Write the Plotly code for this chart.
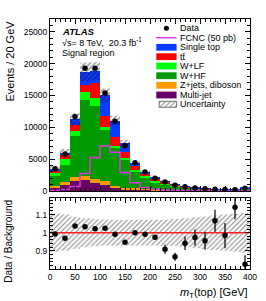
import plotly.graph_objects as go

# ---------------- data ----------------
bin_centers = [10, 30, 50, 70, 90, 110, 130, 150, 170, 190,
               210, 230, 250, 270, 290, 310, 330, 350, 370, 390]
bin_width = 20

multijet = [500, 1010, 1580, 1720, 1300, 930, 430, 270, 250, 180,
            120, 100, 70, 45, 30, 24, 16, 14, 12, 32]
zjets_diboson = [260, 350, 600, 590, 550, 640, 360, 250, 170, 120,
                 80, 60, 40, 25, 18, 15, 10, 8, 6, 20]
w_hf = [1650, 2740, 6420, 11950, 11500, 8050, 6040, 4340, 2570, 1780,
        1200, 910, 620, 410, 280, 222, 155, 132, 103, 300]
w_lf = [450, 920, 790, 1280, 1300, 460, 270, 320, 250, 210,
        150, 110, 80, 50, 35, 28, 20, 17, 13, 38]
ttbar = [350, 610, 940, 1130, 2350, 1660, 1420, 990, 700, 520,
         350, 250, 170, 110, 75, 60, 42, 36, 28, 80]
single_top = [290, 350, 900, 1970, 1830, 3280, 2530, 1320, 510, 220,
              150, 110, 80, 50, 35, 28, 20, 17, 13, 38]
fcnc = [60, 250, 700, 2750, 5250, 7050, 6100, 2900, 1300, 530,
        270, 170, 110, 80, 60, 40, 30, 25, 20, 50]
data = [3480, 5800, 11650, 19250, 19250, 15380, 10950, 7100, 4450, 3000,
        2000, 1400, 920, 650, 460, 360, 280, 220, 200, 420]
rel_unc = [0.105, 0.10, 0.088, 0.08, 0.075, 0.072, 0.07, 0.07, 0.07, 0.07,
           0.07, 0.072, 0.075, 0.08, 0.085, 0.09, 0.095, 0.10, 0.105, 0.11]
ratio = [0.993, 0.97, 1.037, 1.033, 1.022, 1.024, 0.991, 0.947, 1.0, 0.991,
         0.975, 0.909, 0.867, 0.942, 0.973, 0.956, 1.066, 0.984, 1.14, 0.826]
ratio_err = [0.006, 0.006, 0.004, 0.003, 0.003, 0.004, 0.004, 0.005, 0.007, 0.009,
             0.012, 0.025, 0.022, 0.037, 0.045, 0.05, 0.06, 0.07, 0.066, 0.05]

legend_labels = ["Data", "FCNC (50 pb)", "Single top", "tt\u0304", "W+LF", "W+HF",
                 "Z+jets, diboson", "Multi-jet", "Uncertainty"]

C_ST = "#0a3cff"
C_TT = "#ff0000"
C_WLF = "#00ff00"
C_WHF = "#009a00"
C_Z = "#ff9900"
C_MJ = "#660066"
C_FCNC = "#e033e0"

FONT = "Liberation Sans, Arial, Helvetica, sans-serif"

fig = go.Figure()

stack = [("Multi-jet", multijet, C_MJ), ("Z+jets, diboson", zjets_diboson, C_Z),
         ("W+HF", w_hf, C_WHF), ("W+LF", w_lf, C_WLF), ("tt", ttbar, C_TT),
         ("Single top", single_top, C_ST)]
for name, vals, col in stack:
    fig.add_trace(go.Bar(x=bin_centers, y=vals, width=bin_width, name=name,
                         marker=dict(color=col, line=dict(width=0)),
                         xaxis="x", yaxis="y", showlegend=False))

total = [sum(v) for v in zip(*[s[1] for s in stack])]
n = len(bin_centers)
half = bin_width / 2

# uncertainty band on the stack
bx, by = [], []
for i in range(n):
    up = total[i] * (1 + rel_unc[i])
    bx += [bin_centers[i] - half, bin_centers[i] + half]
    by += [up, up]
for i in reversed(range(n)):
    dn = total[i] * (1 - rel_unc[i])
    bx += [bin_centers[i] + half, bin_centers[i] - half]
    by += [dn, dn]
hatch = dict(shape="/", fgcolor="#000000", bgcolor="rgba(0,0,0,0)", size=3.5, solidity=0.35)
fig.add_trace(go.Scatter(x=bx, y=by, fill="toself", fillcolor="rgba(0,0,0,0)",
                         fillpattern=hatch, mode="lines",
                         line=dict(width=0, color="rgba(0,0,0,0)"),
                         xaxis="x", yaxis="y", showlegend=False, hoverinfo="skip"))

# FCNC step line
fx = [c - half for c in bin_centers] + [bin_centers[-1] + half]
fy = fcnc + [fcnc[-1]]
fig.add_trace(go.Scatter(x=fx, y=fy, mode="lines", line=dict(color=C_FCNC, width=1.5, shape="hv"),
                         xaxis="x", yaxis="y", showlegend=False))

# data
fig.add_trace(go.Scatter(x=bin_centers, y=data, mode="markers",
                         marker=dict(color="black", size=5.5),
                         error_y=dict(type="data", array=[d ** 0.5 for d in data],
                                      width=0, thickness=1, color="black"),
                         xaxis="x", yaxis="y", showlegend=False))

# ratio panel band
rx, ry = [], []
for i in range(n):
    rx += [bin_centers[i] - half, bin_centers[i] + half]
    ry += [1 + rel_unc[i]] * 2
for i in reversed(range(n)):
    rx += [bin_centers[i] + half, bin_centers[i] - half]
    ry += [1 - rel_unc[i]] * 2
hatch2 = dict(shape="/", fgcolor="#333333", bgcolor="rgba(0,0,0,0)", size=3.5, solidity=0.35)
fig.add_trace(go.Scatter(x=rx, y=ry, fill="toself", fillcolor="rgba(0,0,0,0)",
                         fillpattern=hatch2, mode="lines",
                         line=dict(width=0, color="rgba(0,0,0,0)"),
                         xaxis="x2", yaxis="y2", showlegend=False, hoverinfo="skip"))
fig.add_trace(go.Scatter(x=[0, 400], y=[1, 1], mode="lines", line=dict(color="#ff2020", width=1.5),
                         xaxis="x2", yaxis="y2", showlegend=False))
fig.add_trace(go.Scatter(x=bin_centers, y=ratio, mode="markers",
                         marker=dict(color="black", size=5.5),
                         error_y=dict(type="data", array=ratio_err, width=0, thickness=1.2, color="black"),
                         xaxis="x2", yaxis="y2", showlegend=False, cliponaxis=True))

# ---------------- hand-drawn legend on a pixel overlay axis ----------------
rows = [28.3, 37.7, 47.3, 56.7, 66.0, 75.7, 85.3, 95.0, 104.3]
sx0, sx1 = 160, 181
box_colors = [None, None, C_ST, C_TT, C_WLF, C_WHF, C_Z, C_MJ, None]
shapes = []
for r, col in zip(rows, box_colors):
    if col:
        shapes.append(dict(type="rect", xref="x3", yref="y3", x0=sx0, x1=sx1,
                           y0=r - 3.4, y1=r + 3.4, fillcolor=col, line=dict(width=0)))
shapes.append(dict(type="line", xref="x3", yref="y3", x0=sx0, x1=sx1, y0=rows[1], y1=rows[1],
                   line=dict(color=C_FCNC, width=1.5)))
fig.add_trace(go.Scatter(x=[(sx0 + sx1) / 2], y=[rows[0]], mode="markers",
                         marker=dict(color="black", size=5), xaxis="x3", yaxis="y3",
                         showlegend=False, hoverinfo="skip"))
u = rows[8]
fig.add_trace(go.Scatter(x=[163, sx1, sx1, 163, 163], y=[u - 3, u - 3, u + 3, u + 3, u - 3],
                         fill="toself", fillcolor="rgba(0,0,0,0)", fillpattern=hatch2,
                         mode="lines", line=dict(width=0.8, color="#555555"),
                         xaxis="x3", yaxis="y3", showlegend=False, hoverinfo="skip"))

annotations = []
for r, lab in zip(rows, legend_labels):
    annotations.append(dict(xref="x3", yref="y3", x=183, y=r, text=lab, showarrow=False,
                            xanchor="left", yanchor="middle", borderpad=0,
                            font=dict(family=FONT, size=9, color="black")))
annotations += [
    dict(xref="x3", yref="y3", x=61, y=31, text="<b><i>ATLAS</i></b>", showarrow=False,
         xanchor="left", yanchor="middle", borderpad=0,
         font=dict(family=FONT, size=9.5, color="black")),
    dict(xref="x3", yref="y3", x=61, y=42, text="\u221as= 8 TeV,  20.3 fb<sup>-1</sup>", showarrow=False,
         xanchor="left", yanchor="middle", borderpad=0,
         font=dict(family=FONT, size=9, color="black")),
    dict(xref="x3", yref="y3", x=61, y=52.5, text="Signal region", showarrow=False,
         xanchor="left", yanchor="middle", borderpad=0,
         font=dict(family=FONT, size=9, color="black")),
    dict(xref="paper", yref="paper", x=1.0, y=-0.06, text="<i>m</i><sub>T</sub>(top) [GeV]",
         showarrow=False, xanchor="right", yanchor="top",
         font=dict(family=FONT, size=11, color="black")),
    dict(xref="paper", yref="paper", x=-0.205, y=1.0, text="Events / 20 GeV", textangle=-90,
         showarrow=False, xanchor="center", yanchor="top",
         font=dict(family=FONT, size=11, color="black")),
    dict(xref="paper", yref="paper", x=-0.205, y=0.283, text="Data / Background", textangle=-90,
         showarrow=False, xanchor="center", yanchor="top",
         font=dict(family=FONT, size=10, color="black")),
]

axis_common = dict(showline=True, linecolor="black", linewidth=1, mirror="allticks",
                   ticks="inside", ticklen=5, tickcolor="black", tickwidth=1,
                   showgrid=False, zeroline=False,
                   tickfont=dict(family=FONT, size=8.5, color="black"))

fig.update_layout(
    width=266, height=301,
    margin=dict(l=50, r=9, t=19, b=32),
    paper_bgcolor="white", plot_bgcolor="rgba(0,0,0,0)",
    barmode="stack", bargap=0, showlegend=False,
    font=dict(family=FONT, color="black"),
    xaxis=dict(domain=[0, 1], anchor="y", range=[0, 400], tick0=0, dtick=50,
               showticklabels=False, minor=dict(ticks="inside", ticklen=3, dtick=10, tickcolor="black"),
               **axis_common),
    yaxis=dict(domain=[0.312, 1], anchor="x", range=[0, 27000], tick0=0, dtick=5000,
               tickformat="d", minor=dict(ticks="inside", ticklen=3, dtick=1000, tickcolor="black"),
               **axis_common),
    xaxis2=dict(domain=[0, 1], anchor="y2", range=[0, 400], tick0=0, dtick=50,
                minor=dict(ticks="inside", ticklen=3, dtick=10, tickcolor="black"),
                **axis_common),
    yaxis2=dict(domain=[0, 0.283], anchor="x2", range=[0.8, 1.19],
                tickvals=[0.9, 1.0, 1.1], ticktext=["0.9", "1", "1.1"],
                minor=dict(ticks="inside", ticklen=3, tick0=0.8, dtick=0.02, tickcolor="black"),
                **axis_common),
    xaxis3=dict(overlaying="x", anchor="y3", range=[50, 257], visible=False),
    yaxis3=dict(overlaying="y", anchor="x3", range=[191, 19], visible=False),
    shapes=shapes,
    annotations=annotations,
)

fig.write_html("out.html", config={"displayModeBar": False},
               post_script="document.body.style.margin='0';")
